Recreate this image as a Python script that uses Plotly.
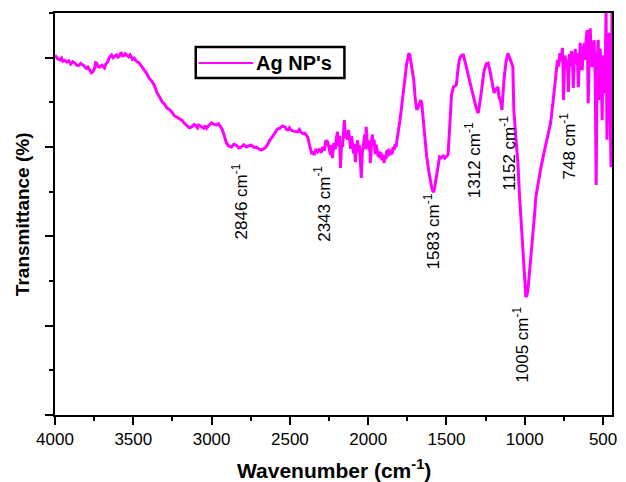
import plotly.graph_objects as go

# FTIR spectrum of Ag nanoparticles
wavenumber = [
    4000, 3985, 3968, 3958, 3950, 3937, 3924, 3912, 3900, 3887, 3873, 3862,
    3850, 3836, 3823, 3812, 3800, 3790, 3778, 3768, 3759, 3748, 3740, 3734,
    3725, 3715, 3700, 3684, 3675, 3665, 3652, 3639, 3630, 3620, 3608, 3598,
    3590, 3583, 3576, 3568, 3560, 3552, 3544, 3530, 3520, 3513, 3505, 3494,
    3480, 3462, 3446, 3430, 3415, 3399, 3383, 3367, 3357, 3348, 3332, 3316,
    3300, 3285, 3270, 3253, 3238, 3222, 3205, 3190, 3174, 3158, 3142, 3127,
    3112, 3100, 3090, 3082, 3066, 3051, 3040, 3032, 3015, 3000, 2985, 2968,
    2955, 2943, 2933, 2924, 2915, 2905, 2890, 2873, 2858, 2842, 2826, 2810,
    2795, 2778, 2762, 2747, 2730, 2715, 2700, 2684, 2670, 2658, 2643, 2627,
    2610, 2595, 2580, 2563, 2548, 2532, 2522, 2513, 2503, 2494, 2472, 2449,
    2440, 2430, 2418, 2405, 2395, 2386, 2375, 2367, 2360, 2354, 2345, 2335,
    2323, 2310, 2300, 2291, 2280, 2270, 2259, 2250, 2241, 2235, 2228, 2220,
    2210, 2203, 2196, 2188, 2183, 2177, 2170, 2164, 2158, 2152, 2145, 2138,
    2133, 2126, 2120, 2112, 2106, 2101, 2093, 2087, 2082, 2075, 2068, 2062,
    2057, 2050, 2044, 2038, 2030, 2022, 2017, 2013, 2006, 2000, 1994, 1990,
    1987, 1980, 1974, 1968, 1962, 1955, 1949, 1943, 1936, 1930, 1924, 1918,
    1912, 1905, 1899, 1892, 1886, 1880, 1873, 1867, 1861, 1855, 1848, 1841,
    1835, 1828, 1822, 1816, 1807, 1797, 1785, 1772, 1763, 1755, 1748, 1741,
    1734, 1725, 1717, 1709, 1700, 1690, 1680, 1671, 1664, 1658, 1648, 1639,
    1627, 1614, 1604, 1595, 1588, 1582, 1574, 1565, 1555, 1544, 1532, 1520,
    1510, 1500, 1490, 1480, 1468, 1456, 1447, 1437, 1428, 1418, 1408, 1400,
    1392, 1383, 1373, 1357, 1340, 1325, 1310, 1297, 1288, 1278, 1268, 1259,
    1246, 1234, 1225, 1215, 1205, 1196, 1184, 1171, 1165, 1155, 1146, 1140,
    1133, 1120, 1108, 1099, 1089, 1082, 1076, 1070, 1057, 1044, 1035, 1025,
    1015, 1006, 1000, 993, 986, 980, 971, 962, 952, 943, 936, 930,
    915, 899, 883, 867, 851, 835, 820, 804, 797, 791, 784, 776,
    768, 760, 756, 753, 748, 743, 735, 728, 722, 715, 708, 702,
    696, 690, 684, 678, 672, 665, 658, 652, 646, 640, 633, 627,
    620, 614, 608, 601, 595, 588, 582, 576, 570, 563, 557, 550,
    544, 538, 531, 525, 519, 513, 506, 500, 494, 488, 481, 478,
    475, 468, 462, 456, 449, 446, 443,
]
transmittance = [
    80.6, 79.8, 79.5, 79.9, 79.2, 79.4, 79.0, 79.3, 78.6, 79.1, 78.8, 78.3,
    78.2, 78.7, 78.4, 77.9, 77.6, 77.9, 77.2, 76.6, 76.8, 77.5, 78.9, 78.8,
    78.0, 77.9, 78.3, 77.7, 78.6, 79.0, 80.1, 80.6, 80.0, 80.2, 80.6, 80.1,
    80.3, 80.9, 81.0, 80.4, 80.5, 80.9, 80.6, 80.2, 80.6, 80.1, 79.6, 79.9,
    79.2, 78.8, 78.0, 77.2, 76.5, 75.4, 74.8, 73.9, 72.8, 72.1, 71.2, 70.1,
    69.6, 68.7, 68.4, 67.8, 67.0, 66.7, 66.2, 66.0, 65.3, 64.9, 64.3, 64.5,
    65.0, 64.8, 64.3, 64.9, 64.6, 64.2, 64.8, 64.2, 64.9, 65.4, 65.1, 64.9,
    65.2, 64.5, 64.0, 63.1, 62.0, 60.9, 60.2, 60.0, 60.6, 60.4, 59.8, 60.0,
    60.5, 60.0, 60.3, 60.4, 59.9, 60.0, 59.6, 59.3, 59.5, 59.8, 60.5, 61.6,
    62.4, 63.1, 64.0, 64.2, 64.7, 64.5, 63.9, 63.8, 64.3, 63.8, 63.5, 63.4,
    63.9, 63.4, 63.0, 63.1, 62.6, 62.2, 60.5, 59.3, 58.4, 59.0, 58.2, 59.5,
    58.9, 59.6, 58.7, 60.0, 59.2, 61.5, 61.1, 59.8, 58.2, 60.4, 57.5, 60.9,
    59.5, 62.0, 63.4, 60.2, 62.5, 55.3, 61.0, 60.0, 63.5, 66.0, 62.0, 63.0,
    61.6, 63.8, 62.2, 59.6, 62.4, 61.1, 58.5, 60.7, 56.6, 59.8, 61.5, 58.8,
    60.4, 57.0, 53.1, 58.5, 60.2, 62.8, 59.5, 64.5, 61.2, 60.0, 59.3, 61.5,
    56.4, 59.8, 62.8, 60.6, 61.6, 58.4, 60.5, 59.3, 57.8, 59.0, 57.5, 58.8,
    57.0, 58.3, 56.4, 58.0, 57.3, 59.3, 57.9, 59.6, 58.2, 59.0, 58.4, 60.0,
    59.3, 60.6, 60.0, 61.6, 63.5, 66.0, 69.5, 72.8, 76.0, 78.4, 80.2, 81.0,
    80.6, 78.5, 76.6, 75.0, 71.0, 68.3, 69.0, 70.1, 70.5, 69.8, 66.0, 61.6,
    58.0, 54.8, 52.6, 51.0, 50.2, 49.9, 51.2, 53.5, 56.0, 57.8, 57.6, 58.0,
    57.5, 57.8, 58.3, 64.0, 71.6, 73.4, 73.6, 73.9, 77.0, 79.5, 80.3, 80.6,
    80.6, 79.0, 77.9, 75.5, 73.0, 70.5, 68.7, 67.6, 69.5, 72.1, 75.0, 77.2,
    78.6, 78.8, 77.5, 75.9, 74.0, 72.1, 73.0, 73.4, 71.2, 70.5, 68.3, 71.5,
    75.0, 79.0, 81.0, 80.2, 78.8, 78.5, 77.9, 68.3, 62.0, 56.6, 50.0, 43.7,
    38.0, 32.5, 29.0, 26.4, 26.8, 28.0, 31.5, 34.7, 38.5, 42.5, 45.5, 48.6,
    52.0, 55.0, 57.8, 60.2, 62.5, 65.4, 70.0, 75.0, 77.5, 79.5, 78.0, 81.0,
    79.2, 82.2, 78.0, 70.5, 76.5, 80.5, 78.2, 79.5, 72.3, 80.8, 78.0, 81.5,
    80.1, 73.2, 79.0, 82.0, 78.5, 81.0, 73.4, 79.0, 83.3, 80.0, 77.2, 82.0,
    83.3, 79.5, 84.5, 86.2, 69.8, 81.0, 86.6, 80.5, 77.9, 82.5, 83.9, 75.0,
    51.5, 78.8, 84.0, 70.5, 82.0, 78.8, 66.0, 80.5, 79.5, 72.0, 91.0, 75.0,
    61.6, 82.0, 85.5, 70.0, 55.5, 80.0, 91.0,
]

# Band labels: text, x position (cm-1), y position (%)
band_text = ["2846", "2343", "1583", "1312", "1152", "1005", "748"]
band_x = [2816, 2291, 1595, 1329, 1108, 1025, 722]
band_y = [47.9, 47.2, 41.0, 57.1, 58.7, 15.7, 60.2]

LINE_COLOR = "#FF00FF"
FONT = "Liberation Sans, Arial, sans-serif"

fig = go.Figure()
fig.add_trace(go.Scatter(
    x=wavenumber, y=transmittance, mode="lines",
    line=dict(color=LINE_COLOR, width=3),
    name="Ag NP's", showlegend=False,
))

annotations = []
for t, bx, by in zip(band_text, band_x, band_y):
    annotations.append(dict(
        x=bx, y=by, xref="x", yref="y", text=f"{t} cm<sup>-1</sup>",
        textangle=-90, showarrow=False,
        font=dict(family=FONT, size=17, color="black"),
    ))

# Axis titles
annotations.append(dict(
    x=0.5, y=-0.135, xref="paper", yref="paper", yanchor="middle",
    text="<b>Wavenumber (cm<sup>-1</sup>)</b>", showarrow=False,
    font=dict(family=FONT, size=21, color="black"),
))
annotations.append(dict(
    x=-0.059, y=0.5, xref="paper", yref="paper", xanchor="center",
    text="<b>Transmittance (%)</b>", textangle=-90, showarrow=False,
    font=dict(family=FONT, size=19, color="black"),
))

# Legend box
annotations.append(dict(
    x=0.358, y=0.8756, xref="paper", yref="paper", xanchor="left",
    yanchor="middle", text="<b>Ag NP's</b>", showarrow=False,
    font=dict(family=FONT, size=20, color="black"),
))
shapes = [
    dict(type="rect", xref="paper", yref="paper", x0=0.2527, x1=0.5196,
         y0=0.8383, y1=0.9154, line=dict(color="black", width=2.5),
         fillcolor="white", layer="below"),
    dict(type="line", xref="paper", yref="paper", x0=0.258, x1=0.356,
         y0=0.8756, y1=0.8756, line=dict(color=LINE_COLOR, width=2.2)),
]

fig.update_layout(
    width=626, height=482,
    margin=dict(l=55, r=9, t=13, b=67),
    paper_bgcolor="white", plot_bgcolor="white",
    annotations=annotations, shapes=shapes,
    font=dict(family=FONT, color="black"),
)
fig.update_xaxes(
    range=[4000, 443], tick0=500, dtick=500,
    ticks="outside", ticklen=8, tickwidth=2, tickcolor="black",
    minor=dict(ticks="outside", ticklen=4, tickwidth=2, tickcolor="black", dtick=250, tick0=500),
    showline=True, linewidth=2, linecolor="black", mirror=True,
    showgrid=False, zeroline=False,
    tickfont=dict(family=FONT, size=17, color="black"),
)
fig.update_yaxes(
    range=[0, 90], tick0=0, dtick=20,
    ticks="outside", ticklen=8, tickwidth=2, tickcolor="black",
    minor=dict(ticks="outside", ticklen=4, tickwidth=2, tickcolor="black", dtick=10, tick0=0),
    showticklabels=False,
    showline=True, linewidth=2, linecolor="black", mirror=True,
    showgrid=False, zeroline=False,
)

fig.write_html("out.html")
